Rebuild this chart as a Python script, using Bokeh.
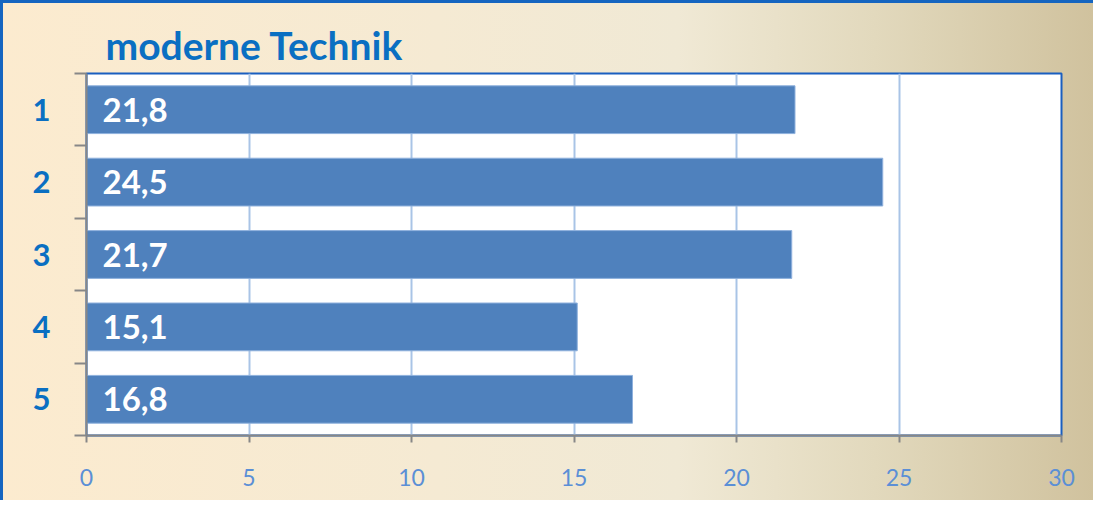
from bokeh.plotting import figure
from bokeh.models import Range1d, FixedTicker, InlineStyleSheet, ColumnDataSource
from bokeh.core.properties import value
from bokeh.embed import file_html
from bokeh.resources import INLINE

# data
categories = ["1", "2", "3", "4", "5"]
values = [21.8, 24.5, 21.7, 15.1, 16.8]
x_ticks = [0, 5, 10, 15, 20, 25, 30]
title_text = "moderne Technik"

positions = list(range(1, len(categories) + 1))
labels = [f"{v:.1f}".replace(".", ",") for v in values]
src = ColumnDataSource(dict(y=positions, v=values, lab=labels))

p = figure(width=1093, height=500, output_backend="svg", toolbar_location=None,
           x_range=Range1d(0, 30), y_range=Range1d(5.5, 0.5),
           min_border_left=86, min_border_right=32, min_border_top=73, min_border_bottom=65)

p.border_fill_color = None
p.background_fill_color = "white"
p.outline_line_color = "#1a5fc0"
p.outline_line_width = 2
p.stylesheets = [InlineStyleSheet(css=""":host {
  background: linear-gradient(to right, #fcebcf 0%, #f5ead3 40%, #f0e9d5 62%, #e2d9bd 80%, #d0c29e 100%);
  box-shadow: inset 3px 3px 0 #1565c0;
}""")]

p.title.text = title_text
p.title.text_font = "Lato"
p.title.text_font_style = "bold"
p.title.text_font_size = "39px"
p.title.text_color = "#0a6fc2"
p.title.offset = 19
p.title.standoff = 12

p.hbar(y="y", right="v", left=0, height=0.66, source=src,
       fill_color="#4f81bd", line_color="#8fb1dd", line_width=1)
p.text(x=0, y="y", text="lab", source=src, x_offset=16, text_baseline="middle",
       text_color="white", text_font=value("Lato"), text_font_style="bold",
       text_font_size="33px")

# x axis
xa = p.xaxis[0]
xa.ticker = FixedTicker(ticks=x_ticks)
xa.axis_line_color = "#878787"
xa.axis_line_width = 2
xa.major_tick_line_color = "#878787"
xa.major_tick_line_width = 2
xa.major_tick_out = 7
xa.major_tick_in = 0
xa.minor_tick_line_color = None
xa.major_label_text_font = "Lato"
xa.major_label_text_font_size = "23px"
xa.major_label_text_color = "#5b8fd6"
xa.major_label_standoff = 26

# y axis
ya = p.yaxis[0]
ya.ticker = FixedTicker(ticks=positions, minor_ticks=[i + 0.5 for i in range(0, len(categories) + 1)])
ya.major_label_overrides = {pos: c for pos, c in zip(positions, categories)}
ya.axis_line_color = "#878787"
ya.axis_line_width = 2
ya.major_tick_line_color = None
ya.major_tick_out = 0
ya.major_tick_in = 0
ya.minor_tick_line_color = "#878787"
ya.minor_tick_line_width = 2
ya.minor_tick_out = 12
ya.minor_tick_in = 0
ya.major_label_text_font = "Lato"
ya.major_label_text_font_style = "bold"
ya.major_label_text_font_size = "31px"
ya.major_label_text_color = "#0a6fc2"
ya.major_label_standoff = 24

p.ygrid.grid_line_color = None
p.xgrid.grid_line_color = "#a9c4e6"
p.xgrid.grid_line_width = 2

open("out.html", "w").write(file_html(p, INLINE))
